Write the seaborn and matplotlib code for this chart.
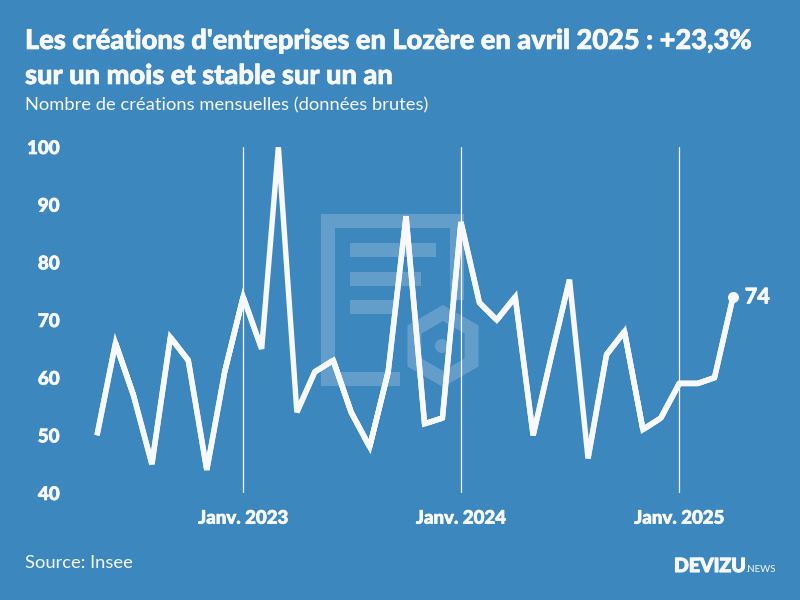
import numpy as np
import pandas as pd
import matplotlib
matplotlib.use("Agg")
import matplotlib.pyplot as plt
import matplotlib.patheffects as pe
from matplotlib.patches import Rectangle, RegularPolygon, Circle
import seaborn as sns

# monthly values
months = pd.date_range("2022-05-01", "2025-04-01", freq="MS")
creations = [50, 66, 57, 45, 67, 63, 44, 61,
             74, 65, 100, 54, 61, 63, 54, 48, 61, 88, 52, 53,
             87, 73, 70, 74, 50, 64, 77, 46, 64, 68, 51, 53,
             59, 59, 60, 74]
y_ticks = [40, 50, 60, 70, 80, 90, 100]
x_ticks = ["2023-01-01", "2024-01-01", "2025-01-01"]
x_labels = ["Janv. 2023", "Janv. 2024", "Janv. 2025"]

title_lines = ["Les créations d'entreprises en Lozère en avril 2025 : +23,3%", "sur un mois et stable sur un an"]
subtitle = "Nombre de créations mensuelles (données brutes)"

BG = "#3d87bf"
FG = "#f8f9ff"
W, H = 800, 600
PAD = 4  # px of room left and right of the line so its ends are not clipped
LW = 3.9

sns.set_theme(style="white")
plt.rcParams["font.family"] = ["Lato", "DejaVu Sans"]

df = pd.DataFrame({"mois": months, "creations": creations})
fig = plt.figure(figsize=(8, 6), dpi=100, facecolor=BG)
heavy = [pe.withStroke(linewidth=0.5, foreground=FG)]


def px_rect(x0, y0, x1, y1):
    # rectangle given in picture pixels, y going down
    return Rectangle((x0 / W, 1 - y1 / H), (x1 - x0) / W, (y1 - y0) / H,
                     transform=fig.transFigure, fc="white", ec="none", alpha=0.2, zorder=0)


# watermark logo behind the chart
for box in [(321, 214, 464, 228), (321, 228, 335, 386), (335, 372, 400, 386), (450, 228, 464, 300),
            (350, 243, 436, 257), (350, 272, 421, 286), (350, 300, 393, 314)]:
    fig.add_artist(px_rect(*box))
fig.add_artist(RegularPolygon((443 / W * 8, 6 - 346 / H * 6), 6, radius=0.33, fc="none", ec="white",
                              lw=10, alpha=0.2, transform=fig.dpi_scale_trans, zorder=0))
fig.add_artist(Circle((442 / W * 8, 6 - 346 / H * 6), 0.07, fc="white", ec="none", alpha=0.2,
                      transform=fig.dpi_scale_trans, zorder=0))

ax = fig.add_axes([(97 - PAD) / W, 1 - 493 / H, (733 - 97 + 2 * PAD) / W, (493 - 147) / H])
ax.patch.set_alpha(0)

for d in x_ticks:
    ax.axvline(pd.Timestamp(d), color=FG, lw=0.9, zorder=1)

# bevel everywhere: the sharpest spikes end flat in the reference
sns.lineplot(data=df, x="mois", y="creations", ax=ax, color=FG, lw=LW, zorder=3,
             solid_joinstyle="bevel", solid_capstyle="butt")

span = months[-1] - months[0]
margin = span * PAD / (733 - 97)
ax.set_xlim(months[0] - margin, months[-1] + margin)
ax.set_ylim(40, 100)

# the wider corners keep their point (miter limit of 4, as in svg)
pts = ax.transData.transform(np.column_stack([matplotlib.dates.date2num(months), creations]))
for i in range(1, len(pts) - 1):
    a, b = pts[i - 1] - pts[i], pts[i + 1] - pts[i]
    angle = np.arccos(np.dot(a, b) / (np.linalg.norm(a) * np.linalg.norm(b)))
    if 1 / np.sin(angle / 2) < 4:
        ax.plot(months[i - 1:i + 2], creations[i - 1:i + 2], color=FG, lw=LW, zorder=3,
                solid_joinstyle="miter", solid_capstyle="butt")

ax.scatter(months[-1], creations[-1], s=48, color=FG, zorder=4, clip_on=False)
ax.annotate(str(creations[-1]), (months[-1], creations[-1]), xytext=(8.5, 0), textcoords="offset points",
            va="center", ha="left", color=FG, fontsize=15.5, fontweight=900, annotation_clip=False,
            path_effects=heavy)

ax.set_yticks(y_ticks)
ax.set_xticks(pd.to_datetime(x_ticks))
ax.set_xticklabels(x_labels)
ax.set_xlabel("")
ax.set_ylabel("")
ax.tick_params(axis="y", length=0, pad=24, labelsize=13.5, labelcolor=FG)
ax.tick_params(axis="x", length=0, pad=12, labelsize=13.4, labelcolor=FG)
for lab in ax.get_xticklabels() + ax.get_yticklabels():
    lab.set_fontweight(900)
    lab.set_path_effects(heavy)
sns.despine(ax=ax, left=True, bottom=True)

for y, line in zip([41, 76], title_lines):
    fig.text(25 / W, 1 - y / H, line, color=FG, fontsize=19.6, fontweight=900, va="center", ha="left",
             path_effects=heavy)
fig.text(25 / W, 1 - 105 / H, subtitle, color=FG, fontsize=13.2, va="center", ha="left")
fig.text(25 / W, 1 - 563.5 / H, "Source: Insee", color=FG, fontsize=13.2, va="center", ha="left")
fig.text(674 / W, 1 - 566.5 / H, "DEVIZU", color=FG, fontsize=14, fontweight=900, va="center", ha="left",
         path_effects=[pe.withStroke(linewidth=0.8, foreground=FG)])
fig.text(745 / W, 1 - 570 / H, ".NEWS", color=FG, fontsize=7, va="center", ha="left")

fig.savefig("out.png", dpi=100, facecolor=BG)
